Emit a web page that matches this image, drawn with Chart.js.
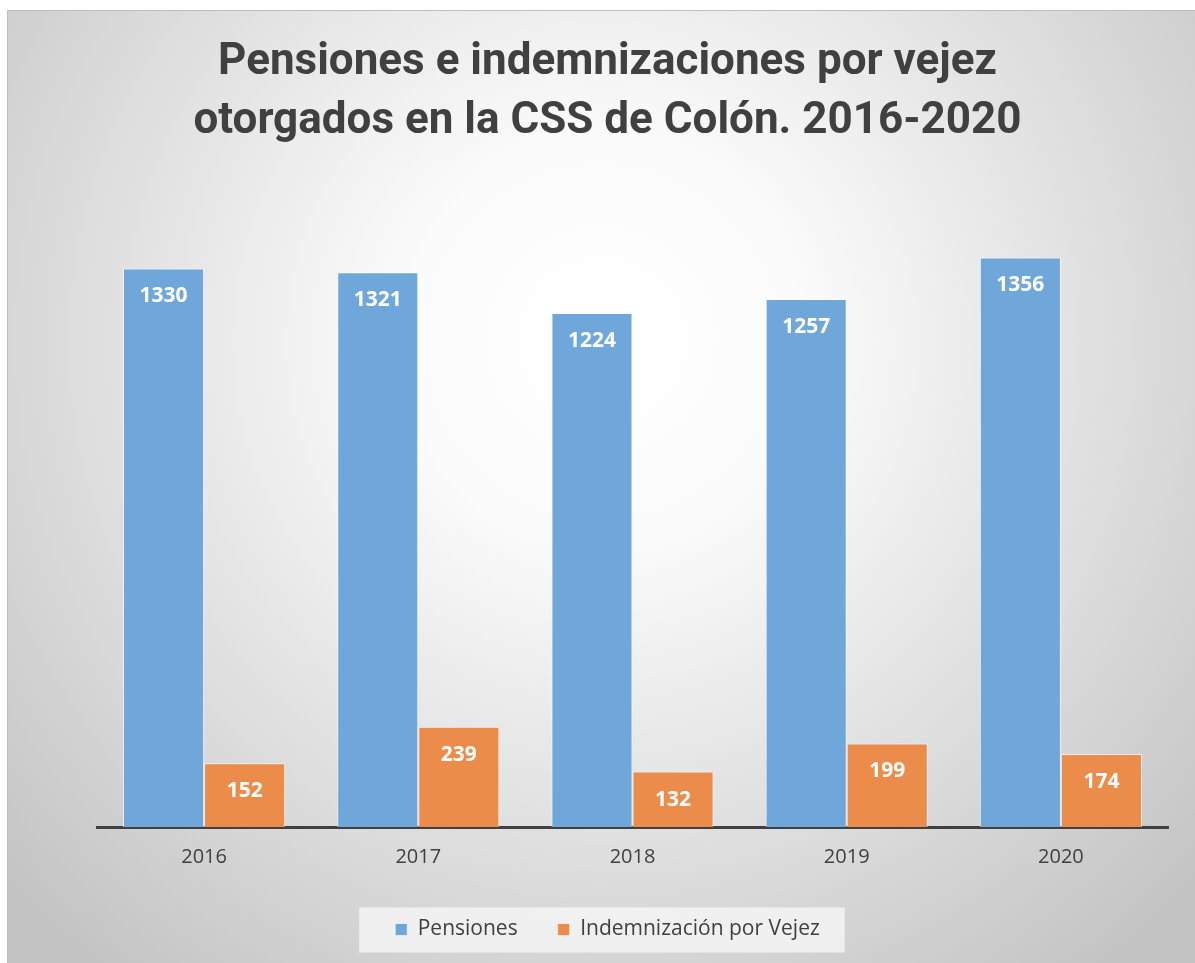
<!DOCTYPE html>
<html>
<head>
<meta charset="utf-8">
<script src="https://cdn.jsdelivr.net/npm/chart.js@4"></script>
<style>
  html, body { margin: 0; padding: 0; background: #ffffff; }
  #wrap {
    position: absolute; left: 7px; top: 10px;
    width: 1188px; height: 953px;
    border-left: 1px solid #bdbdbd; border-top: 1px solid #bdbdbd;
    box-sizing: border-box;
  }
</style>
</head>
<body>
<div id="wrap"><canvas id="grafico"></canvas></div>
<script>
// datos
const anos = ['2016', '2017', '2018', '2019', '2020'];
const pensiones = [1330, 1321, 1224, 1257, 1356];
const indemnizacion = [152, 239, 132, 199, 174];
const nombresSeries = ['Pensiones', 'Indemnización por Vejez'];
const tituloLineas = ['Pensiones e indemnizaciones por vejez', 'otorgados en la CSS de Colón. 2016-2020'];

const gris = '#404040';

// fondo degradado radial + caja de la leyenda
const fondo = {
  id: 'fondo',
  beforeDraw(chart) {
    const ctx = chart.ctx;
    const w = chart.width, h = chart.height;
    ctx.save();
    const g = ctx.createRadialGradient(w / 2, 330, 0, w / 2, 330, 800);
    g.addColorStop(0, '#ffffff');
    g.addColorStop(0.25, '#fbfbfb');
    g.addColorStop(1, '#c4c4c4');
    ctx.fillStyle = g;
    ctx.fillRect(0, 0, w, h);
    const boxes = chart.legend && chart.legend.legendHitBoxes;
    if (boxes && boxes.length) {
      const first = boxes[0], last = boxes[boxes.length - 1];
      const x0 = first.left - 36;
      const x1 = last.left + last.width + 25;
      const yc = first.top + first.height / 2;
      ctx.fillStyle = 'rgba(244,244,244,0.85)';
      ctx.fillRect(x0, yc - 22, x1 - x0, 45);
    }
    ctx.restore();
  }
};

// etiquetas blancas dentro de las barras
const etiquetas = {
  id: 'etiquetas',
  afterDatasetsDraw(chart) {
    const ctx = chart.ctx;
    ctx.save();
    ctx.fillStyle = '#ffffff';
    ctx.font = 'bold 21px "Open Sans"';
    ctx.textAlign = 'center';
    ctx.textBaseline = 'middle';
    chart.data.datasets.forEach((ds, i) => {
      chart.getDatasetMeta(i).data.forEach((bar, j) => {
        ctx.fillText(String(ds.data[j]), bar.x, bar.y + 28);
      });
    });
    ctx.restore();
  }
};

new Chart(document.getElementById('grafico'), {
  type: 'bar',
  data: {
    labels: anos,
    datasets: [{
      label: nombresSeries[0],
      data: pensiones,
      backgroundColor: '#6fa7da',
      borderColor: 'rgba(255,255,255,0.6)',
      borderWidth: 1
    }, {
      label: nombresSeries[1],
      data: indemnizacion,
      backgroundColor: '#ec8c4a',
      borderColor: 'rgba(255,255,255,0.6)',
      borderWidth: 1
    }]
  },
  options: {
    responsive: true,
    maintainAspectRatio: false,
    animation: false,
    layout: { padding: { left: 39, right: 27, top: 0, bottom: 13 } },
    datasets: { bar: { categoryPercentage: 0.757, barPercentage: 1 } },
    plugins: {
      title: {
        display: true,
        text: tituloLineas,
        color: gris,
        font: { family: 'Roboto', size: 44, weight: 'bold', lineHeight: 1.33 },
        padding: { top: 23, bottom: 4 }
      },
      legend: {
        position: 'bottom',
        labels: {
          color: gris,
          font: { family: '"Open Sans"', size: 21 },
          boxWidth: 12,
          boxHeight: 12,
          padding: 40
        }
      },
      tooltip: { enabled: false }
    },
    scales: {
      x: {
        grid: { display: false, drawTicks: false },
        border: { display: true, color: gris, width: 3 },
        ticks: { color: gris, font: { family: '"Open Sans"', size: 20 }, padding: 18 },
        afterFit(s) { s.height = 52; }
      },
      y: {
        min: 0,
        max: 1600,
        grid: { display: false, drawTicks: false },
        border: { display: false },
        ticks: { display: false },
        afterFit(s) { s.width = 50; }
      }
    }
  },
  plugins: [fondo, etiquetas]
});
</script>
</body>
</html>
